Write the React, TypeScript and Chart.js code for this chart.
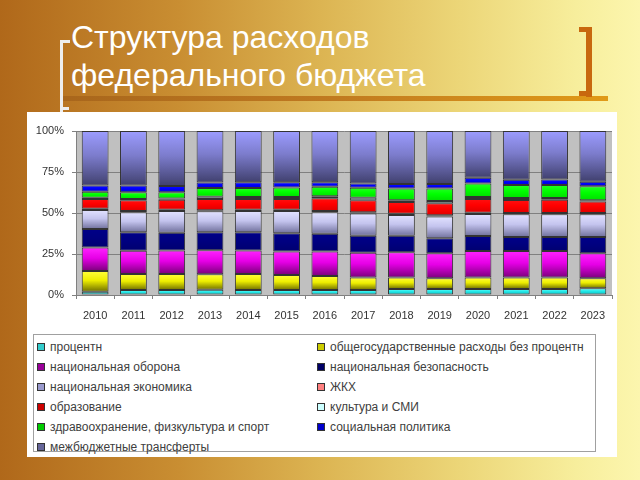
import React, { useEffect, useRef } from "react";
import { Chart, registerables } from "chart.js";

Chart.register(...registerables);

const years = ["2010", "2011", "2012", "2013", "2014", "2015", "2016", "2017", "2018", "2019", "2020", "2021", "2022", "2023"];
const yTickValues = [0, 25, 50, 75, 100];

const interest = [2.0, 3.0, 3.0, 3.2, 3.0, 3.0, 3.0, 3.0, 3.7, 3.7, 3.7, 3.7, 3.7, 4.1];
const generalGov = [12.6, 9.8, 9.8, 9.5, 9.8, 9.2, 8.6, 7.7, 7.0, 6.5, 6.9, 6.9, 6.9, 6.1];
const defense = [14.3, 14.2, 14.4, 14.6, 14.4, 14.4, 15.0, 15.1, 15.4, 15.2, 16.2, 16.2, 16.2, 15.2];
const security = [11.3, 11.2, 10.8, 10.9, 11.0, 11.0, 10.7, 10.4, 10.0, 9.2, 9.2, 8.6, 8.6, 10.0];
const economy = [11.6, 12.2, 13.2, 12.8, 13.0, 13.6, 13.1, 13.5, 12.7, 13.2, 13.4, 13.8, 13.8, 13.8];
const housing = [0.8, 0.8, 0.8, 0.7, 0.8, 0.8, 0.8, 0.8, 0.8, 0.8, 0.8, 0.8, 0.8, 0.8];
const education = [5.9, 6.5, 6.1, 6.8, 6.5, 6.5, 7.8, 7.3, 7.1, 7.3, 8.3, 7.9, 8.1, 7.0];
const culture = [0.8, 0.8, 0.8, 1.4, 1.3, 1.3, 1.2, 1.5, 1.0, 1.4, 1.3, 1.2, 1.0, 0.7];
const health = [3.7, 4.1, 3.7, 5.4, 5.4, 5.8, 5.8, 6.1, 7.3, 7.7, 8.2, 7.9, 7.9, 8.6];
const social = [3.7, 4.1, 3.9, 3.3, 3.5, 3.1, 2.8, 2.6, 2.7, 2.7, 3.5, 3.3, 3.5, 2.8];
const transfers = [33.3, 33.3, 33.5, 31.4, 31.3, 31.3, 31.2, 32.0, 32.3, 32.3, 28.5, 29.7, 29.5, 30.9];

const seriesNames = [
  "процентн",
  "общегосударственные расходы без процентн",
  "национальная оборона",
  "национальная безопасность",
  "национальная экономика",
  "ЖКХ",
  "образование",
  "культура и СМИ",
  "здравоохранение, физкультура и спорт",
  "социальная политика",
  "межбюджетные трансферты",
];
const seriesData = [interest, generalGov, defense, security, economy, housing, education, culture, health, social, transfers];

// gradient stops (top -> bottom of each segment)
const seriesStops: string[][] = [
  ["#66ffff", "#22e6e6", "#00bfbf"],
  ["#ffff3a", "#eeee00", "#6e6e00"],
  ["#ff22ff", "#e600e6", "#7a007a"],
  ["#000088", "#000080", "#000070"],
  ["#e2e2ff", "#c4c4ee", "#70709c"],
  ["#ff9c9c", "#ff8888", "#ee7070"],
  ["#ff1010", "#ff0000", "#dd0000"],
  ["#ddffff", "#ccffff", "#b8eeee"],
  ["#22ff22", "#00ff00", "#00dd00"],
  ["#1010ff", "#0000ff", "#0000cc"],
  ["#9c9cff", "#7c7ccc", "#40406e"],
];
const legendColors = ["#33cccc", "#cccc00", "#990099", "#000066", "#9999cc", "#ff8080", "#cc0000", "#ccffff", "#00cc00", "#0000cc", "#666699"];

const FONT = "'Liberation Sans', Arial, sans-serif";

const plotBg = {
  id: "plotBg",
  beforeDraw(chart: any) {
    const { ctx, chartArea } = chart;
    if (!chartArea) return;
    ctx.save();
    ctx.fillStyle = "#c0c0c0";
    ctx.fillRect(chartArea.left, chartArea.top, chartArea.right - chartArea.left, chartArea.bottom - chartArea.top);
    ctx.restore();
  },
};

function ChartPanel() {
  const ref = useRef<HTMLCanvasElement | null>(null);
  useEffect(() => {
    if (!ref.current) return;
    const datasets = seriesData.map((arr, k) => ({
      label: seriesNames[k],
      data: arr,
      borderColor: "#333333",
      borderWidth: 1,
      borderSkipped: false,
      barPercentage: 0.7,
      categoryPercentage: 1,
      backgroundColor: (c: any) => {
        const stops = seriesStops[k];
        if (c.type !== "data" || c.dataIndex === undefined) return stops[1];
        const chart = c.chart;
        const ys = chart.scales && chart.scales.y;
        if (!ys || !chart.chartArea) return stops[1];
        let base = 0;
        for (let j = 0; j < k; j++) base += seriesData[j][c.dataIndex];
        const top = base + arr[c.dataIndex];
        const y0 = ys.getPixelForValue(Math.min(top, 100));
        const y1 = ys.getPixelForValue(base);
        if (!isFinite(y0) || !isFinite(y1) || y1 - y0 < 0.5) return stops[1];
        const g = chart.ctx.createLinearGradient(0, y0, 0, y1);
        g.addColorStop(0, stops[0]);
        g.addColorStop(0.45, stops[1]);
        g.addColorStop(1, stops[2]);
        return g;
      },
    }));
    const chart = new Chart(ref.current, {
      type: "bar",
      data: { labels: years, datasets },
      options: {
        responsive: false,
        animation: false,
        devicePixelRatio: 1,
        layout: { padding: { left: 0, top: 19, right: 5, bottom: 0 } },
        plugins: { legend: { display: false }, tooltip: { enabled: false } },
        scales: {
          x: {
            stacked: true,
            grid: { drawOnChartArea: false, tickLength: 4, color: "#808080", offset: true },
            border: { display: true, color: "#808080" },
            ticks: { font: { family: FONT, size: 11 }, color: "#333333", padding: 10, maxRotation: 0 },
            afterFit: (s: any) => { s.height = 30; },
          },
          y: {
            stacked: true,
            min: 0,
            max: 100,
            afterBuildTicks: (s: any) => { s.ticks = yTickValues.map((v) => ({ value: v })); },
            grid: { color: "#808080", tickLength: 4 },
            border: { display: true, color: "#808080" },
            ticks: {
              font: { family: FONT, size: 11 },
              color: "#333333",
              padding: 8,
              callback: (v: any) => v + "%",
            },
            afterFit: (s: any) => { s.width = 49; },
          },
        },
      },
      plugins: [plotBg],
    });
    return () => chart.destroy();
  }, []);
  return <canvas ref={ref} width={590} height={213} style={{ display: "block", width: 590, height: 213 }} />;
}

export default function App() {
  const legendRows: number[][] = [[0, 1], [2, 3], [4, 5], [6, 7], [8, 9], [10]];
  return (
    <div
      style={{
        position: "fixed",
        left: 0,
        top: 0,
        width: 640,
        height: 480,
        overflow: "hidden",
        background: "linear-gradient(to right, #b0681a 0%, #c98e32 28%, #dcb452 50%, #ecd678 72%, #f7ee9c 90%, #fcf6ae 100%)",
        fontFamily: FONT,
      }}
    >
      {/* title */}
      <div
        style={{
          position: "absolute",
          left: 71,
          top: 18,
          color: "#ffffff",
          fontSize: 32,
          lineHeight: "38px",
          whiteSpace: "nowrap",
        }}
      >
        Структура расходов
        <br />
        федерального бюджета
      </div>
      {/* underline */}
      <div style={{ position: "absolute", left: 61, top: 96, width: 547, height: 5, background: "linear-gradient(to right, #a8661c, #c07a20 50%, #e09a18)" }} />
      {/* right bracket */}
      <div style={{ position: "absolute", left: 586, top: 27, width: 6, height: 70, background: "#c8680e" }} />
      <div style={{ position: "absolute", left: 579, top: 27, width: 13, height: 5, background: "#c8680e" }} />
      <div style={{ position: "absolute", left: 579, top: 91, width: 13, height: 5, background: "#c8680e" }} />
      {/* white panel */}
      <div style={{ position: "absolute", left: 27, top: 112, width: 590, height: 345, background: "#ffffff" }}>
        <ChartPanel />
        <div
          style={{
            position: "absolute",
            left: 6,
            top: 222,
            width: 563,
            height: 118,
            border: "1px solid #a0a0a0",
            boxSizing: "border-box",
          }}
        >
          {legendRows.map((row, r) =>
            row.map((idx, c) => (
              <div
                key={idx}
                style={{
                  position: "absolute",
                  left: c === 0 ? 3 : 283,
                  top: 4 + r * 20,
                  height: 16,
                  display: "flex",
                  alignItems: "center",
                  whiteSpace: "nowrap",
                  fontSize: 12,
                  color: "#404040",
                }}
              >
                <span
                  style={{
                    display: "inline-block",
                    width: 6,
                    height: 6,
                    background: legendColors[idx],
                    border: "1px solid #333",
                    marginRight: 5,
                  }}
                />
                {seriesNames[idx]}
              </div>
            ))
          )}
        </div>
      </div>
      {/* left bracket (drawn over panel edge) */}
      <div style={{ position: "absolute", left: 60, top: 40, width: 3, height: 72, background: "#eeeeee" }} />
      <div style={{ position: "absolute", left: 60, top: 40, width: 10, height: 3, background: "#eeeeee" }} />
      <div style={{ position: "absolute", left: 60, top: 107, width: 9, height: 3, background: "#eeeeee" }} />
    </div>
  );
}
